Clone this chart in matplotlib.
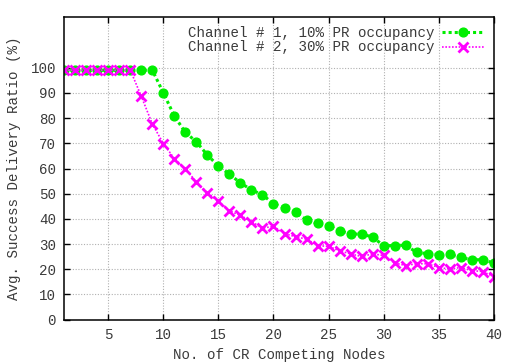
import numpy as np
import matplotlib
matplotlib.use("Agg")
import matplotlib.pyplot as plt

# data
nodes = np.arange(1, 41)
ch1_10pct = [99, 99, 99, 99, 99, 99, 99, 99, 99, 90.0,
             80.8, 74.3, 70.6, 65.3, 61.0, 57.7, 54.3, 51.5, 49.6, 46.0,
             44.3, 42.7, 39.5, 38.2, 37.3, 35.3, 34.0, 34.0, 32.8, 29.4,
             29.4, 29.6, 26.7, 26.2, 25.8, 25.9, 24.7, 23.8, 23.8, 22.5]
ch2_30pct = [99, 99, 99, 99, 99, 99, 99, 88.6, 77.6, 69.9,
             63.9, 59.9, 54.6, 50.3, 47.0, 43.2, 41.4, 38.9, 36.4, 37.0,
             34.2, 32.9, 32.0, 29.4, 29.1, 27.4, 26.1, 25.1, 26.1, 25.5,
             22.5, 21.5, 22.2, 22.2, 20.7, 20.1, 20.7, 19.5, 19.1, 17.1]
labels = ["Channel # 1, 10% PR occupancy", "Channel # 2, 30% PR occupancy"]
xticks = [5, 10, 15, 20, 25, 30, 35, 40]
yticks = list(range(0, 101, 10))

plt.rcParams['font.family'] = ['Liberation Mono', 'DejaVu Sans Mono']
fs = 10.2
txt_col = '#3a3a3a'

fig = plt.figure(figsize=(5.18, 3.63), dpi=100)
ax = fig.add_axes([0.1241, 0.1193, 0.8290, 0.8330])

ax.plot(nodes, ch1_10pct, color='#00ee00', linestyle=(0, (1, 1)), linewidth=2.2,
        marker='o', markersize=6.3, label=labels[0])
ax.plot(nodes, ch2_30pct, color='#ff00ff', linestyle=(0, (1, 1)), linewidth=1.2,
        marker='x', markersize=6.5, markeredgewidth=2, label=labels[1])

ax.set_xlim(1, 40)
ax.set_ylim(0, 120)
ax.set_xticks(xticks)
ax.set_yticks(yticks)
ax.tick_params(direction='in', top=True, right=True, length=4, width=1,
               labelsize=fs, colors='black', pad=6)
for lab in ax.get_xticklabels() + ax.get_yticklabels():
    lab.set_color(txt_col)
ax.grid(True, color='#b0b0b0', linestyle=(0, (1, 1.5)), linewidth=0.8)
ax.set_axisbelow(True)
for s in ax.spines.values():
    s.set_linewidth(1.1)

ax.set_xlabel("No. of CR Competing Nodes", fontsize=fs, color=txt_col, labelpad=4)
ax.set_ylabel("Avg. Success Delivery Ratio (%)", fontsize=fs, color=txt_col, labelpad=7)

ax.legend(loc='upper right', bbox_to_anchor=(0.978, 0.972), frameon=False,
          markerfirst=False, fontsize=fs, handlelength=3.0, handletextpad=0.5,
          borderpad=0, borderaxespad=0, labelspacing=0.05, labelcolor=txt_col)

fig.savefig("out.png", dpi=100)
